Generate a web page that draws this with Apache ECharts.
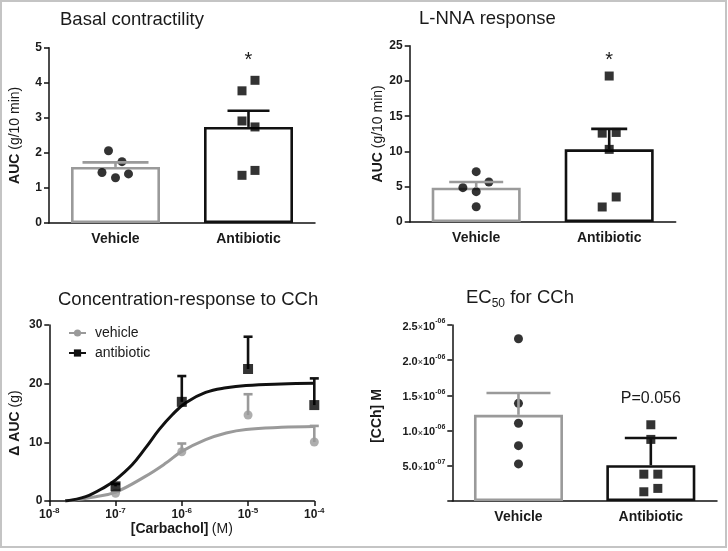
<!DOCTYPE html>
<html><head><meta charset="utf-8">
<script src="https://cdn.jsdelivr.net/npm/echarts@6/dist/echarts.min.js"></script>
<style>html,body{margin:0;padding:0;background:#fff}#c{width:728px;height:551px}</style>
</head><body><div id="c"></div>
<script>
// ---------------- DATA ----------------
const groups = ['Vehicle', 'Antibiotic'];

const basalVehicle = [2.06, 1.75, 1.44, 1.40, 1.29];
const basalAntibiotic = [4.07, 3.77, 2.91, 2.74, 1.50, 1.36];
const basalMean = [1.60, 2.74];
const basalSem = [0.13, 0.46];

const lnnaVehicle = [7.14, 5.67, 4.87, 4.30, 2.17];
const lnnaAntibiotic = [20.7, 12.6, 12.7, 10.3, 3.55, 2.13];
const lnnaMean = [4.87, 10.3];
const lnnaSem = [0.80, 2.90];

const cchLogConc = [-7, -6, -5, -4];
const cchVehicleMean = [1.3, 8.4, 14.65, 10.05];
const cchVehicleSem = [0.3, 1.4, 3.55, 2.75];
const cchAntibioticMean = [2.5, 16.9, 22.5, 16.35];
const cchAntibioticSem = [0.4, 4.4, 5.5, 4.55];

const fitAntibioticLogX = [-7.76, -7.45, -7.15, -7.0, -6.75, -6.55, -6.34, -6.14, -5.94, -5.64, -5.33, -5.03, -4.5, -4.0];
const fitAntibioticY    = [0, 0.74, 2.46, 3.6, 6.17, 9.0, 12.2, 14.75, 16.75, 18.5, 19.3, 19.7, 19.95, 20.05];
const fitVehicleLogX = [-7.76, -7.3, -7.0, -6.55, -6.24, -6.0, -5.64, -5.33, -5.03, -4.5, -4.0];
const fitVehicleY    = [0, 0.74, 1.5, 4.2, 6.46, 8.46, 10.46, 11.6, 12.2, 12.55, 12.7];

const ec50Vehicle = [2.305e-6, 1.387e-6, 1.105e-6, 0.786e-6, 0.527e-6];
const ec50Antibiotic = [1.083e-6, 0.875e-6, 0.381e-6, 0.381e-6, 0.179e-6, 0.131e-6];
const ec50Mean = [1.224e-6, 0.508e-6];
const ec50Sem = [0.31e-6, 0.386e-6];

const legendNames = ['vehicle', 'antibiotic'];
const titles = ['Basal contractility', 'L-NNA response', 'Concentration-response to CCh', 'EC50 for CCh'];
const pValueText = 'P=0.056';

// ---------------- STYLE ----------------
const GRAY = '#9a9a9a', BLACK = '#111111', TXT = '#1a1a1a';
const FONT = '"Liberation Sans", Arial, Helvetica, sans-serif';

const chart = echarts.init(document.getElementById('c'), null, {renderer: 'canvas'});

function axisLineStyle() { return {show: true, lineStyle: {color: BLACK, width: 1.5}}; }
function yTick() { return {show: true, inside: false, length: 5, lineStyle: {color: BLACK, width: 1.5}}; }

function catX(grid) {
  return {type: 'category', gridIndex: grid, data: groups, boundaryGap: true,
    axisLine: axisLineStyle(), axisTick: {show: false},
    axisLabel: {fontFamily: FONT, fontWeight: 'bold', fontSize: 14, color: TXT, margin: 9},
    splitLine: {show: false}};
}
function valY(grid, min, max, interval, name, gap, pad) {
  return {type: 'value', gridIndex: grid, min: min, max: max, interval: interval,
    axisLine: axisLineStyle(), axisTick: yTick(), splitLine: {show: false},
    axisLabel: {fontFamily: FONT, fontWeight: 'bold', fontSize: 12, color: TXT, margin: 7},
    name: name, nameLocation: 'middle', nameGap: gap, nameRotate: 90,
    nameTextStyle: {fontFamily: FONT, fontSize: 14, color: TXT, padding: pad || 0,
      rich: {b: {fontFamily: FONT, fontWeight: 'bold', fontSize: 14, color: TXT},
             r: {fontFamily: FONT, fontSize: 14, color: TXT}}}};
}

function errSeries(xi, data, colors, capHalf, lw, z) {
  return {type: 'custom', xAxisIndex: xi, yAxisIndex: xi, z: z || 6, silent: true,
    encode: {x: 0, y: 1},
    data: data,
    renderItem: function (params, api) {
      const x = api.value(0), m = api.value(1), s = api.value(2);
      const p0 = api.coord([x, m]), p1 = api.coord([x, m + s]);
      const c = colors[params.dataIndex] || colors[0];
      const ch = Array.isArray(capHalf) ? capHalf[params.dataIndex] : capHalf;
      return {type: 'group', children: [
        {type: 'line', shape: {x1: p0[0], y1: p0[1], x2: p1[0], y2: p1[1]}, style: {stroke: c, lineWidth: lw}},
        {type: 'line', shape: {x1: p1[0] - ch, y1: p1[1], x2: p1[0] + ch, y2: p1[1]}, style: {stroke: c, lineWidth: lw}}
      ]};
    }};
}

function barSeries(xi, means) {
  return {type: 'bar', xAxisIndex: xi, yAxisIndex: xi, barWidth: 89, silent: true, z: 2,
    data: means.map((m, i) => ({value: m, itemStyle: {color: '#fff', borderColor: i === 0 ? GRAY : BLACK, borderWidth: 2.6}}))};
}

function pointsSeries(xi, cat, vals, jitter, symbol, size, mark) {
  const s = {type: 'scatter', xAxisIndex: xi, yAxisIndex: xi, z: 4, silent: true,
    symbol: symbol, symbolSize: size, itemStyle: {color: '#000'},
    data: vals.map((v, i) => ({value: [cat, v], symbolOffset: [jitter[i], 0]}))};
  if (mark) s.markPoint = mark;
  return s;
}

function starMark(cat, vals, text, dy, fs, weight) {
  return {symbol: 'circle', symbolSize: 0, silent: true,
    data: [{coord: [cat, Math.max.apply(null, vals)]}],
    label: {show: true, formatter: text, offset: [0, dy], fontFamily: FONT, fontSize: fs,
      fontWeight: weight, color: TXT}};
}

function sci(v) {
  if (v === 0) return '';
  const e = Math.floor(Math.log10(v) + 1e-9);
  const m = v / Math.pow(10, e);
  const es = (e < 0 ? '-' : '+') + String(Math.abs(e)).padStart(2, '0');
  return '{n|' + m.toFixed(1) + '}{x|\u00d7}{n|10}{s|' + es + '}';
}

const titleStyle = {fontFamily: FONT, fontSize: 18.5, fontWeight: 'normal', color: TXT};

const option = {
  backgroundColor: '#fff',
  animation: false,
  textStyle: {fontFamily: FONT},
  title: [
    {text: titles[0], left: 60, top: 10, padding: 0, textStyle: titleStyle},
    {text: titles[1], left: 419, top: 9, padding: 0, textStyle: titleStyle},
    {text: titles[2], left: 58, top: 290, padding: 0, textStyle: titleStyle},
    {text: '{a|EC}{s|50}{a| for CCh}', left: 466, top: 286, padding: 0,
      textStyle: Object.assign({}, titleStyle, {
        rich: {a: {fontFamily: FONT, fontSize: 18.5, color: TXT, lineHeight: 24, verticalAlign: 'middle'},
               s: {fontFamily: FONT, fontSize: 12, color: TXT, lineHeight: 24, verticalAlign: 'bottom'}}})}
  ],
  legend: {
    data: legendNames, orient: 'vertical', left: 63, top: 321, itemWidth: 17, itemHeight: 9, itemGap: 6,
    padding: 5,
    textStyle: {fontFamily: FONT, fontSize: 14, color: TXT, padding: [0, 0, 0, 4]}, selectedMode: false
  },
  grid: [
    {left: 49, top: 47.7, width: 266, height: 175.3},
    {left: 409.7, top: 45.7, width: 266, height: 176.3},
    {left: 49.3, top: 325, width: 265, height: 176},
    {left: 452.3, top: 325, width: 264.7, height: 176}
  ],
  xAxis: [
    catX(0), catX(1),
    {type: 'log', gridIndex: 2, logBase: 10, min: 1e-8, max: 1e-4,
      axisLine: axisLineStyle(),
      axisTick: {show: true, inside: false, length: 5, lineStyle: {color: BLACK, width: 1.5}},
      minorTick: {show: false}, splitLine: {show: false},
      axisLabel: {margin: 6, formatter: function (v) {
          return '{b|10}{s|' + Math.round(Math.log10(v)) + '}'; },
        rich: {b: {fontFamily: FONT, fontWeight: 'bold', fontSize: 12, color: TXT, lineHeight: 14, verticalAlign: 'bottom'},
               s: {fontFamily: FONT, fontWeight: 'bold', fontSize: 8, color: TXT, lineHeight: 14, verticalAlign: 'top'}}},
      name: '{b|[Carbachol]} {r|(M)}', nameLocation: 'middle', nameGap: 18,
      nameTextStyle: {rich: {b: {fontFamily: FONT, fontWeight: 'bold', fontSize: 14, color: TXT},
                             r: {fontFamily: FONT, fontSize: 14, color: TXT}}}},
    catX(3)
  ],
  yAxis: [
    valY(0, 0, 5, 1, '{b|AUC} {r|(g/10 min)}', 27),
    valY(1, 0, 25, 5, '{b|AUC} {r|(g/10 min)}', 25),
    valY(2, 0, 30, 10, '{b|\u0394 AUC} {r|(g)}', 27, [0, 20, 0, 0]),
    Object.assign(valY(3, 0, 2.5e-6, 5e-7, '{b|[CCh] M}', 68, [0, 6, 0, 0]), {
      axisLabel: {margin: 7, formatter: sci,
        rich: {n: {fontFamily: FONT, fontWeight: 'bold', fontSize: 11, color: TXT, lineHeight: 14, verticalAlign: 'bottom'},
               x: {fontFamily: FONT, fontSize: 9, color: TXT, lineHeight: 14, verticalAlign: 'bottom'},
               s: {fontFamily: FONT, fontWeight: 'bold', fontSize: 7, color: TXT, lineHeight: 14, verticalAlign: 'top'}}}})
  ],
  series: [
    // Panel 1
    barSeries(0, basalMean),
    pointsSeries(0, 0, basalVehicle, [-7, 6.5, -13.5, 13, 0], 'circle', 9),
    pointsSeries(0, 1, basalAntibiotic, [6.5, -6.5, -6.5, 6.5, 6.5, -6.5], 'rect', 9,
      starMark(1, basalAntibiotic, '*', -20, 20, 'normal')),
    errSeries(0, basalMean.map((m, i) => [i, m, basalSem[i]]), [GRAY, BLACK], [33, 21], 2.6),
    // Panel 2
    barSeries(1, lnnaMean),
    pointsSeries(1, 0, lnnaVehicle, [0, 12.7, -13.3, 0, 0], 'circle', 9),
    pointsSeries(1, 1, lnnaAntibiotic, [0, -7, 7, 0, 7, -7], 'rect', 9,
      starMark(1, lnnaAntibiotic, '*', -16, 20, 'normal')),
    errSeries(1, lnnaMean.map((m, i) => [i, m, lnnaSem[i]]), [GRAY, BLACK], [27, 18], 2.6),
    // Panel 3
    {name: legendNames[0], type: 'line', xAxisIndex: 2, yAxisIndex: 2, smooth: 0.4, showSymbol: false,
      symbol: 'circle', symbolSize: 9, color: GRAY, lineStyle: {color: GRAY, width: 3}, z: 3, silent: true,
      data: fitVehicleLogX.map((lx, i) => [Math.pow(10, lx), fitVehicleY[i]])},
    {name: legendNames[1], type: 'line', xAxisIndex: 2, yAxisIndex: 2, smooth: 0.4, showSymbol: false,
      symbol: 'rect', symbolSize: 10, color: BLACK, lineStyle: {color: BLACK, width: 3}, z: 3, silent: true,
      data: fitAntibioticLogX.map((lx, i) => [Math.pow(10, lx), fitAntibioticY[i]])},
    errSeries(2, cchLogConc.map((lc, i) => [Math.pow(10, lc), cchVehicleMean[i], cchVehicleSem[i]]), [GRAY], 4.5, 2.6, 4),
    errSeries(2, cchLogConc.map((lc, i) => [Math.pow(10, lc), cchAntibioticMean[i], cchAntibioticSem[i]]), [BLACK], 4.5, 2.6, 4),
    {type: 'scatter', xAxisIndex: 2, yAxisIndex: 2, symbol: 'circle', symbolSize: 9, z: 5, silent: true,
      itemStyle: {color: GRAY}, data: cchLogConc.map((lc, i) => [Math.pow(10, lc), cchVehicleMean[i]])},
    {type: 'scatter', xAxisIndex: 2, yAxisIndex: 2, symbol: 'rect', symbolSize: 10, z: 5, silent: true,
      itemStyle: {color: '#000'}, data: cchLogConc.map((lc, i) => [Math.pow(10, lc), cchAntibioticMean[i]])},
    // Panel 4
    barSeries(3, ec50Mean),
    pointsSeries(3, 0, ec50Vehicle, [0, 0, 0, 0, 0], 'circle', 9),
    pointsSeries(3, 1, ec50Antibiotic, [0, 0, -7, 7, 7, -7], 'rect', 9,
      starMark(1, ec50Antibiotic, pValueText, -26, 16, 'normal')),
    errSeries(3, ec50Mean.map((m, i) => [i, m, ec50Sem[i]]), [GRAY, BLACK], [32, 26], 2.6)
  ],
  graphic: [
    {type: 'rect', silent: true, z: 100, shape: {x: 1, y: 1, width: 725, height: 546},
      style: {fill: 'none', stroke: '#c4c4c4', lineWidth: 2}}
  ]
};
chart.setOption(option);
</script></body></html>
